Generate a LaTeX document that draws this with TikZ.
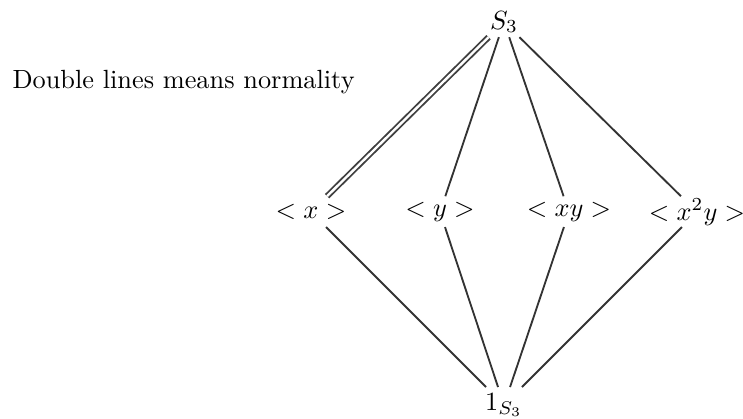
\documentclass[tikz,border=0pt]{standalone}
\usetikzlibrary{calc}
\begin{document}
\begin{tikzpicture}[x=0.38pt,y=-0.38pt,
  grp/.style={inner sep=0pt},
  edge/.style={line width=0.7pt, draw=black!80},
  normaledge/.style={line width=0.7pt, draw=black!75, double=white, double distance=0.9pt}]
\useasboundingbox (0,0) rectangle (743,418);
\node[grp] (S)  at (504,22)  {$S_3$};
\node[grp] (x)  at (311,212) {$<x>$};
\node[grp] (y)  at (440,212) {$<y>$};
\node[grp] (xy) at (569,212) {$<xy>$};
\node[grp] (xxy) at (697,212) {$<x^2y>$};
\node[grp] (one) at (504,405) {$1_{S_3}$};
\node[grp, anchor=base west] (note) at (12,88) {Double lines means normality};
\draw[normaledge] ($(S)!0.08!(x)$) -- ($(S)!0.917!(x)$);
\foreach \n in {y,xy,xxy}{
  \draw[edge] ($(S)!0.08!(\n)$) -- ($(S)!0.917!(\n)$);
}
\foreach \n in {x,y,xy,xxy}{
  \draw[edge] ($(\n)!0.078!(one)$) -- ($(\n)!0.907!(one)$);
}
\end{tikzpicture}
\end{document}
